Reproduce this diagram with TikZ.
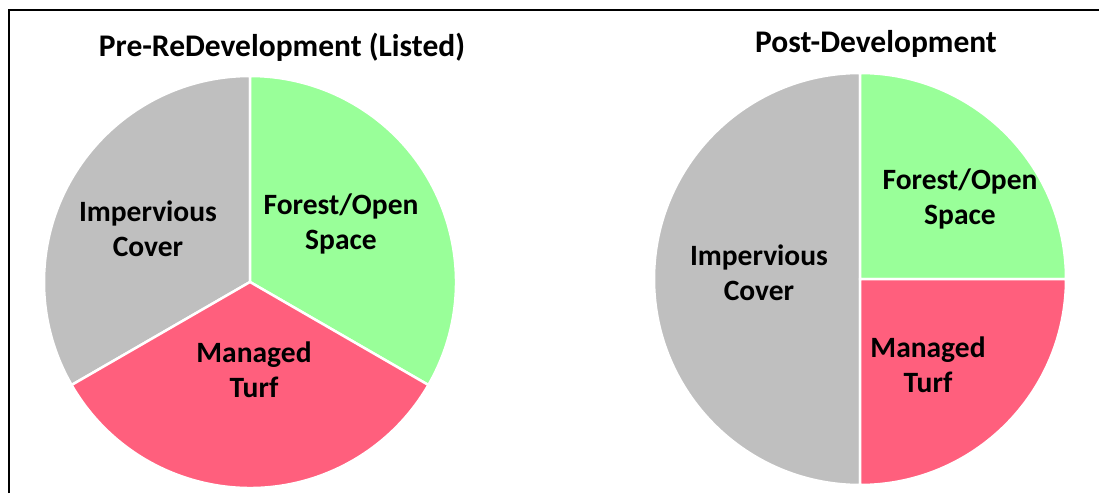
\documentclass[tikz,border=0pt]{standalone}
\usepackage{fontspec}
\setmainfont{Carlito}
\usetikzlibrary{calc}

\definecolor{coverGray}{HTML}{BFBFBF}
\definecolor{forestGreen}{HTML}{99FF99}
\definecolor{turfRed}{HTML}{FF5F7D}

\tikzset{
    slice/.style={draw=white, line width=2.5pt},
    lbl/.style={font=\bfseries\fontsize{29.5}{35}\selectfont, align=center},
    ttl/.style={font=\bfseries\fontsize{31.5}{36}\selectfont}
}

\begin{document}
\begin{tikzpicture}[x=1pt, y=1pt]
        \useasboundingbox (0,0) rectangle (1099,493);
        \pgfmathsetmacro{\pieRadius}{206}
        % frame
        \draw[line width=2pt] (8.5,0) -- (8.5,482.5) -- (1099,482.5);
        % pre-redevelopment
        \coordinate (pre) at (250,211);
        \foreach \from/\to/\col in {90/210/coverGray, -30/90/forestGreen, 210/330/turfRed}{
            \filldraw[slice, fill=\col] (pre) -- ($(pre) + (\from:\pieRadius)$)
                arc[start angle=\from, end angle=\to, radius=\pieRadius] -- cycle;
        }
        % post-development
        \coordinate (post) at (860,214);
        \foreach \from/\to/\col in {90/270/coverGray, 0/90/forestGreen, -90/0/turfRed}{
            \filldraw[slice, fill=\col] (post) -- ($(post) + (\from:\pieRadius)$)
                arc[start angle=\from, end angle=\to, radius=\pieRadius] -- cycle;
        }
        \node[ttl] (preTitle) at (282,446) {Pre-ReDevelopment (Listed)};
        \node[ttl] (postTitle) at (876,449) {Post-Development};
        \node[lbl] (preCover) at (148,264) {Impervious\\Cover};
        \node[lbl] (preForest) at (341,269) {Forest/Open\\Space};
        \node[lbl] (preTurf) at (254,123) {Managed\\Turf};
        \node[lbl] (postCover) at (759,220) {Impervious\\Cover};
        \node[lbl] (postForest) at (960,294) {Forest/Open\\Space};
        \node[lbl] (postTurf) at (928,128) {Managed\\Turf};
\end{tikzpicture}
\end{document}
